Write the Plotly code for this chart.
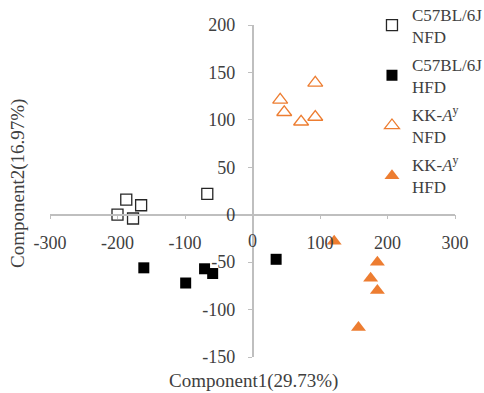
import plotly.graph_objects as go

# Data
c57_nfd_x = [-200, -187, -165, -177, -67]
c57_nfd_y = [0, 16, 10, -4, 22]
c57_hfd_x = [-161, -99, -71, -59, 35]
c57_hfd_y = [-56, -72, -57, -62, -47]
kk_nfd_x = [41, 47, 72, 93, 93]
kk_nfd_y = [121, 108, 98, 139, 103]
kk_hfd_x = [121, 185, 175, 185, 157]
kk_hfd_y = [-28, -50, -67, -80, -119]

x_ticks = [-300, -200, -100, 0, 100, 200, 300]
y_ticks = [-150, -100, -50, 0, 50, 100, 150, 200]

names = ["C57BL/6J<br>NFD", "C57BL/6J<br>HFD",
         "KK-<i>A</i><sup>y</sup><br>NFD", "KK-<i>A</i><sup>y</sup><br>HFD"]

ORANGE = "#ED7D31"
DARK = "#262626"
FONT = "Liberation Serif"
TXT = "#404040"
AXC = "#BFBFBF"

fig = go.Figure()
fig.add_trace(go.Scatter(x=c57_nfd_x, y=c57_nfd_y, mode="markers", name=names[0],
                         legendgroup="a",
                         marker=dict(symbol="square-open", size=11, color=DARK,
                                     line=dict(width=1.3, color=DARK))))
fig.add_trace(go.Scatter(x=c57_hfd_x, y=c57_hfd_y, mode="markers", name=names[1],
                         legendgroup="b",
                         marker=dict(symbol="square", size=11, color="black")))
fig.add_trace(go.Scatter(x=kk_nfd_x, y=kk_nfd_y, mode="markers", name=names[2],
                         legendgroup="c",
                         marker=dict(symbol="triangle-up-open", size=13, color=ORANGE,
                                     line=dict(width=1.3, color=ORANGE))))
fig.add_trace(go.Scatter(x=kk_hfd_x, y=kk_hfd_y, mode="markers", name=names[3],
                         legendgroup="d",
                         marker=dict(symbol="triangle-up", size=13, color=ORANGE)))

x_text = ["" if v == 0 else str(v) for v in x_ticks]

fig.update_layout(
    width=484, height=393,
    margin=dict(l=50, r=29, t=25, b=36, autoexpand=False),
    paper_bgcolor="white", plot_bgcolor="white",
    font=dict(family=FONT, size=18, color=TXT),
    showlegend=True,
    legend=dict(x=0.795, y=1.086, xanchor="left", yanchor="top",
                font=dict(family=FONT, size=17, color=TXT),
                traceorder="grouped", tracegroupgap=3, maxheight=300,
                bgcolor="rgba(255,255,255,0)"),
    xaxis=dict(range=[-300, 300], tickvals=x_ticks, ticktext=x_text,
               anchor="free", position=150 / 350, showline=True, linecolor=AXC,
               linewidth=1.5, ticks="outside", ticklen=4, tickcolor=AXC,
               showgrid=False, zeroline=False, ticklabelstandoff=8,
               automargin=False,
               tickfont=dict(family=FONT, size=18, color=TXT)),
    yaxis=dict(range=[-150, 200], tickvals=y_ticks, ticktext=[str(v) for v in y_ticks],
               anchor="free", position=0.5, showline=True, linecolor=AXC,
               linewidth=1.5, ticks="outside", ticklen=4, tickcolor=AXC,
               showgrid=False, zeroline=False, ticklabelstandoff=9,
               automargin=False,
               tickfont=dict(family=FONT, size=18, color=TXT)),
    annotations=[
        dict(text="0", xref="x", yref="paper", x=0, y=(357 - 241) / 332,
             xanchor="center", yanchor="middle", showarrow=False,
             font=dict(family=FONT, size=18, color=TXT)),
        dict(text="Component1(29.73%)", xref="paper", yref="paper",
             x=(253 - 50) / 405, y=(357 - 381) / 332, xanchor="center", yanchor="middle",
             showarrow=False, font=dict(family=FONT, size=19, color=TXT)),
        dict(text="Component2(16.97%)", xref="paper", yref="paper",
             x=(18 - 50) / 405, y=(357 - 184) / 332, xanchor="center", yanchor="middle",
             textangle=-90, showarrow=False, font=dict(family=FONT, size=19, color=TXT)),
    ],
)

fig.write_html("out.html", config={"displayModeBar": False},
               post_script="document.body.style.margin='0';")
